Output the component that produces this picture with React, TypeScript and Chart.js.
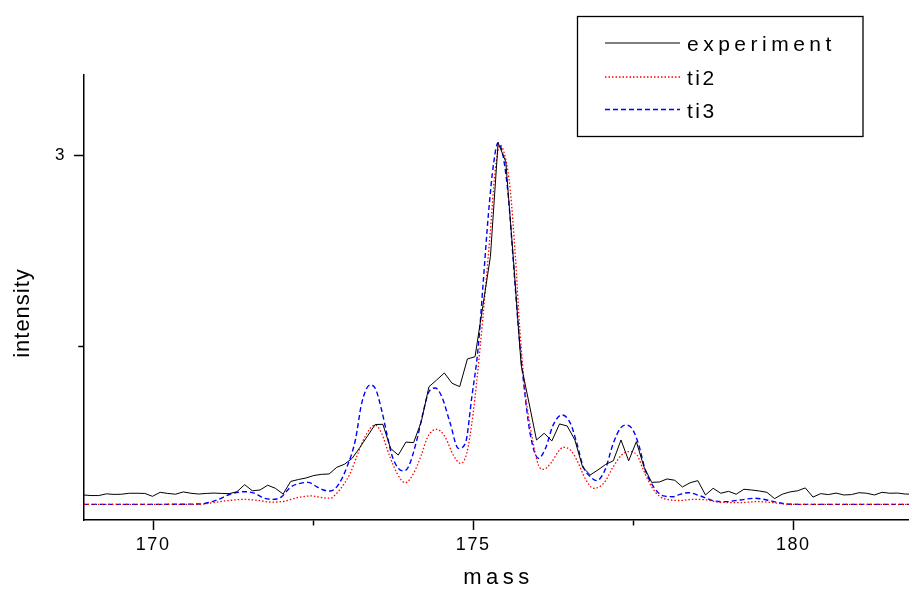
import React, { useEffect, useRef } from 'react';
import { Chart, registerables } from 'chart.js';

Chart.register(...registerables);

const FONT = '"Liberation Sans", Arial, Helvetica, sans-serif';

// ---- axis ticks ----
const massTicks = [170, 172.5, 175, 177.5, 180];
const massLabels = [170, 175, 180];
const intensityTicks = [2, 3];
const intensityLabels = [3];

const xAxisTitle = 'mass';
const yAxisTitle = 'intensity';

// ---- experiment (measured spectrum) ----
const expMass = [
  168.91, 169.03, 169.15, 169.27, 169.39, 169.51, 169.63, 169.75, 169.87, 169.99,
  170.11, 170.23, 170.35, 170.47, 170.59, 170.71, 170.83, 170.95, 171.07, 171.19,
  171.31, 171.43, 171.55, 171.67, 171.79, 171.91, 172.03, 172.15, 172.27, 172.39,
  172.51, 172.63, 172.75, 172.87, 172.99, 173.11, 173.23, 173.35, 173.47, 173.59,
  173.71, 173.83, 173.95, 174.07, 174.19, 174.31, 174.43, 174.55, 174.67, 174.79,
  174.91, 175.03, 175.15, 175.27, 175.39, 175.51, 175.63, 175.75, 175.87, 175.99,
  176.11, 176.23, 176.35, 176.47, 176.59, 176.71, 176.83, 176.95, 177.07, 177.19,
  177.31, 177.43, 177.55, 177.67, 177.79, 177.91, 178.03, 178.15, 178.27, 178.39,
  178.51, 178.63, 178.75, 178.87, 178.99, 179.11, 179.23, 179.35, 179.47, 179.59,
  179.71, 179.83, 179.95, 180.07, 180.19, 180.31, 180.43, 180.55, 180.67, 180.79,
  180.91, 181.03, 181.15, 181.27, 181.39, 181.51, 181.63, 181.75, 181.87,
];
const expIntensity = [
  1.220, 1.217, 1.217, 1.226, 1.223, 1.224, 1.229, 1.229, 1.228, 1.213,
  1.234, 1.228, 1.224, 1.236, 1.229, 1.225, 1.228, 1.230, 1.228, 1.227,
  1.237, 1.274, 1.242, 1.246, 1.271, 1.255, 1.225, 1.291, 1.301, 1.309,
  1.322, 1.328, 1.330, 1.365, 1.381, 1.412, 1.469, 1.529, 1.589, 1.590,
  1.464, 1.429, 1.497, 1.494, 1.604, 1.787, 1.822, 1.859, 1.805, 1.787,
  1.932, 1.944, 2.206, 2.468, 3.064, 2.965, 2.450, 1.901, 1.707, 1.508,
  1.543, 1.503, 1.592, 1.581, 1.508, 1.366, 1.325, 1.351, 1.380, 1.399,
  1.508, 1.399, 1.499, 1.366, 1.286, 1.288, 1.304, 1.297, 1.262, 1.284,
  1.295, 1.220, 1.255, 1.229, 1.239, 1.224, 1.250, 1.246, 1.241, 1.234,
  1.201, 1.224, 1.236, 1.242, 1.257, 1.209, 1.227, 1.222, 1.230, 1.220,
  1.222, 1.232, 1.229, 1.220, 1.234, 1.229, 1.230, 1.225, 1.224,
];

// ---- ti2 (simulated) ----
const ti2Mass = [
  168.92, 170.73, 170.90, 171.21, 171.42, 171.63, 171.84, 172.05, 172.25, 172.48,
  172.64, 172.77, 172.87, 172.97, 173.08, 173.18, 173.31, 173.47, 173.57, 173.68,
  173.81, 173.94, 174.07, 174.19, 174.29, 174.43, 174.56, 174.69, 174.80, 174.90,
  175.00, 175.11, 175.19, 175.27, 175.34, 175.42, 175.50, 175.58, 175.66, 175.73,
  175.81, 175.92, 176.02, 176.10, 176.23, 176.33, 176.41, 176.52, 176.62, 176.75,
  176.88, 177.04, 177.19, 177.32, 177.43, 177.56, 177.66, 177.79, 177.92, 178.05,
  178.23, 178.44, 178.65, 178.86, 179.17, 179.43, 179.69, 179.85, 180.11, 181.81,
];
const ti2Intensity = [
  1.171, 1.171, 1.178, 1.192, 1.197, 1.192, 1.183, 1.187, 1.206, 1.215,
  1.206, 1.203, 1.229, 1.272, 1.334, 1.420, 1.525, 1.586, 1.543, 1.438,
  1.334, 1.284, 1.334, 1.429, 1.524, 1.564, 1.525, 1.429, 1.386, 1.438,
  1.648, 1.996, 2.293, 2.607, 2.904, 3.052, 2.991, 2.817, 2.468, 2.084,
  1.770, 1.525, 1.377, 1.354, 1.394, 1.447, 1.470, 1.455, 1.403, 1.307,
  1.255, 1.281, 1.368, 1.429, 1.447, 1.429, 1.351, 1.263, 1.211, 1.196,
  1.191, 1.197, 1.194, 1.182, 1.180, 1.185, 1.180, 1.173, 1.171, 1.171,
];

// ---- ti3 (simulated) ----
const ti3Mass = [
  168.92, 169.95, 170.73, 171.00, 171.21, 171.42, 171.58, 171.73, 171.86, 172.00,
  172.15, 172.30, 172.42, 172.56, 172.66, 172.77, 172.89, 173.03, 173.16, 173.26,
  173.39, 173.47, 173.57, 173.65, 173.73, 173.83, 173.91, 173.99, 174.12, 174.22,
  174.30, 174.41, 174.51, 174.64, 174.77, 174.88, 174.98, 175.08, 175.16, 175.24,
  175.32, 175.39, 175.47, 175.55, 175.63, 175.71, 175.79, 175.89, 176.02, 176.13,
  176.25, 176.39, 176.52, 176.62, 176.72, 176.83, 176.93, 177.06, 177.19, 177.30,
  177.38, 177.48, 177.58, 177.69, 177.82, 177.97, 178.13, 178.23, 178.36, 178.55,
  178.78, 178.96, 179.17, 179.41, 179.59, 179.77, 179.90, 180.11, 181.81,
];
const ti3Intensity = [
  1.171, 1.171, 1.173, 1.194, 1.225, 1.237, 1.230, 1.204, 1.197, 1.209,
  1.262, 1.281, 1.286, 1.263, 1.246, 1.241, 1.272, 1.368, 1.508, 1.702,
  1.796, 1.779, 1.665, 1.543, 1.429, 1.360, 1.346, 1.368, 1.508, 1.654,
  1.754, 1.780, 1.735, 1.597, 1.464, 1.492, 1.735, 1.996, 2.346, 2.695,
  2.957, 3.064, 2.991, 2.782, 2.433, 2.084, 1.805, 1.543, 1.412, 1.464,
  1.586, 1.639, 1.595, 1.491, 1.368, 1.316, 1.295, 1.351, 1.491, 1.569,
  1.586, 1.569, 1.491, 1.351, 1.263, 1.215, 1.211, 1.223, 1.232, 1.215,
  1.188, 1.185, 1.194, 1.203, 1.194, 1.180, 1.173, 1.171, 1.171,
];

const seriesNames = ['experiment', 'ti2', 'ti3'];
const legendSpacing = ['4.5px', '2.5px', '2.5px'];

const toPoints = (xs: number[], ys: number[]) => xs.map((x, i) => ({ x, y: ys[i] }));

const decorPlugin = {
  id: 'decor',
  beforeDraw(chart: any) {
    chart.ctx.letterSpacing = '1.5px';
  },
  afterDraw(chart: any) {
    const ctx = chart.ctx as any;
    const area = chart.chartArea;
    ctx.save();
    ctx.fillStyle = '#000';
    ctx.textBaseline = 'alphabetic';

    // x axis title
    ctx.font = `22px ${FONT}`;
    ctx.letterSpacing = '4.5px';
    ctx.textAlign = 'center';
    ctx.fillText(xAxisTitle, (area.left + area.right) / 2 + 2, 584);

    // y axis title
    ctx.letterSpacing = '1px';
    ctx.save();
    ctx.translate(29, 313);
    ctx.rotate(-Math.PI / 2);
    ctx.font = `22px ${FONT}`;
    ctx.textAlign = 'center';
    ctx.fillText(yAxisTitle, 0, 0);
    ctx.restore();

    // legend box
    ctx.fillStyle = '#fff';
    ctx.fillRect(577, 16, 286, 121);
    ctx.setLineDash([]);
    ctx.lineWidth = 1.3;
    ctx.strokeStyle = '#000';
    ctx.strokeRect(577.5, 16.5, 285.5, 120);

    const lineY = [43, 77, 109.5];
    const textY = [51, 85, 118];
    chart.data.datasets.forEach((ds: any, i: number) => {
      ctx.beginPath();
      ctx.strokeStyle = ds.borderColor;
      ctx.lineWidth = ds.borderWidth;
      ctx.setLineDash(ds.borderDash || []);
      ctx.moveTo(605, lineY[i]);
      ctx.lineTo(680, lineY[i]);
      ctx.stroke();
      ctx.setLineDash([]);
      ctx.fillStyle = '#000';
      ctx.font = `21px ${FONT}`;
      ctx.letterSpacing = legendSpacing[i];
      ctx.textAlign = 'left';
      ctx.fillText(ds.label, 687, textY[i]);
    });
    ctx.restore();
    ctx.letterSpacing = '0px';
  },
};

export default function App() {
  const canvasRef = useRef<HTMLCanvasElement | null>(null);

  useEffect(() => {
    document.body.style.margin = '0';
    const canvas = canvasRef.current;
    if (!canvas) return;
    const chart = new Chart(canvas, {
      type: 'line',
      data: {
        datasets: [
          {
            label: seriesNames[0],
            data: toPoints(expMass, expIntensity),
            borderColor: '#000000',
            borderWidth: 1,
            pointRadius: 0,
            tension: 0,
            fill: false,
          },
          {
            label: seriesNames[1],
            data: toPoints(ti2Mass, ti2Intensity),
            borderColor: '#ff0000',
            borderWidth: 1.3,
            borderDash: [1.5, 2],
            pointRadius: 0,
            cubicInterpolationMode: 'monotone',
            fill: false,
          },
          {
            label: seriesNames[2],
            data: toPoints(ti3Mass, ti3Intensity),
            borderColor: '#0000ff',
            borderWidth: 1.4,
            borderDash: [5, 3],
            pointRadius: 0,
            cubicInterpolationMode: 'monotone',
            fill: false,
          },
        ],
      } as any,
      options: {
        animation: false,
        responsive: false,
        maintainAspectRatio: false,
        events: [],
        layout: { padding: { top: 75, left: 0, right: 0, bottom: 0 } },
        plugins: {
          legend: { display: false },
          tooltip: { enabled: false },
        },
        scales: {
          x: {
            type: 'linear',
            position: 'bottom',
            min: 168.92,
            max: 181.81,
            afterFit: (s: any) => {
              s.height = 69;
            },
            afterBuildTicks: (s: any) => {
              s.ticks = massTicks.map((v) => ({ value: v }));
            },
            ticks: {
              autoSkip: false,
              maxRotation: 0,
              padding: 4,
              color: '#000',
              font: { family: FONT, size: 18 },
              callback: (v: any) => (massLabels.includes(Number(v)) ? String(v) : ''),
            },
            grid: {
              drawOnChartArea: false,
              drawTicks: true,
              tickLength: 10,
              tickColor: '#000',
              tickWidth: 1.5,
              tickBorderDash: (c: any) =>
                c.tick && massLabels.includes(c.tick.value) ? [] : [5, 100],
            },
            border: { display: true, color: '#000', width: 1.5 },
          },
          y: {
            type: 'linear',
            position: 'left',
            min: 1.089,
            max: 3.419,
            afterFit: (s: any) => {
              s.width = 84;
            },
            afterBuildTicks: (s: any) => {
              s.ticks = intensityTicks.map((v) => ({ value: v }));
            },
            ticks: {
              autoSkip: false,
              padding: 8,
              color: '#000',
              font: { family: FONT, size: 17 },
              callback: (v: any) => (intensityLabels.includes(Number(v)) ? String(v) : ''),
            },
            grid: {
              drawOnChartArea: false,
              drawTicks: true,
              tickLength: 10,
              tickColor: '#000',
              tickWidth: 1.5,
              tickBorderDash: (c: any) =>
                c.tick && intensityLabels.includes(c.tick.value) ? [] : [5, 4.25],
              tickBorderDashOffset: (c: any) =>
                c.tick && intensityLabels.includes(c.tick.value) ? 0 : 5,
            },
            border: { display: true, color: '#000', width: 1.5 },
          },
        },
      } as any,
      plugins: [decorPlugin as any],
    });
    return () => {
      chart.destroy();
    };
  }, []);

  return (
    <div style={{ width: 909, height: 589, background: '#fff' }}>
      <canvas ref={canvasRef} width={909} height={589} style={{ display: 'block' }} />
    </div>
  );
}
